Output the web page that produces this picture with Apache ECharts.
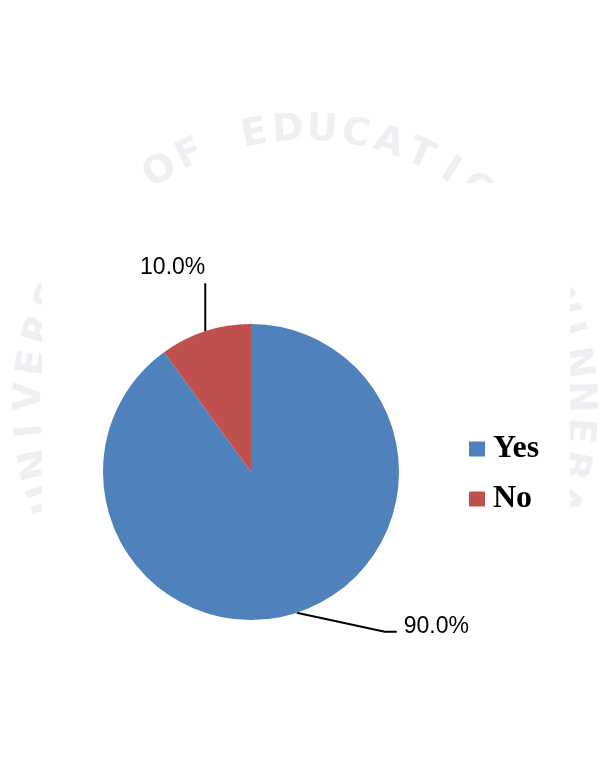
<!DOCTYPE html>
<html>
<head>
<meta charset="utf-8">
<title>Yes / No</title>
<script src="https://cdn.jsdelivr.net/npm/echarts@6/dist/echarts.min.js"></script>
<style>
  html, body { margin: 0; padding: 0; background: #ffffff; }
  #chart { width: 605px; height: 757px; }
</style>
</head>
<body>
<div id="chart"></div>
<script>
// Answer categories and their shares (percent)
const categories = ['Yes', 'No'];
const shares = [90.0, 10.0];
const sliceColors = ['#4F81BD', '#C0504D'];

// Faint seal lettering behind the chart
const sealText = 'UNIVERSITY OF EDUCATION, WINNEBA';

const chart = echarts.init(document.getElementById('chart'), null, { renderer: 'canvas' });

// Place the seal letters around a circle, centred on the page
const sealCx = 305, sealCy = 405, sealR = 275;
const sealSpan = 226 * Math.PI / 180;
const sealLetters = [];
for (let i = 0; i < sealText.length; i++) {
  const ch = sealText[i];
  if (ch === ' ') continue;
  const theta = -sealSpan / 2 + sealSpan * (i + 0.5) / sealText.length;
  sealLetters.push({
    type: 'text',
    z: 0,
    x: sealCx + sealR * Math.sin(theta),
    y: sealCy - sealR * Math.cos(theta),
    rotation: -theta,
    silent: true,
    style: {
      text: ch,
      fill: 'rgba(212,212,226,0.4)',
      font: 'bold 38px "DejaVu Sans"',
      align: 'center',
      verticalAlign: 'middle',
      shadowBlur: 4,
      shadowColor: 'rgba(212,212,226,0.5)'
    }
  });
}

const option = {
  backgroundColor: '#ffffff',
  animation: false,
  color: sliceColors,
  graphic: sealLetters.concat([
    {
      type: 'rect',
      z: 1,
      silent: true,
      shape: { x: 42, y: 183, width: 528, height: 574 },
      style: { fill: '#ffffff' }
    }
  ]),
  legend: {
    orient: 'vertical',
    left: 464,
    top: 428,
    padding: 5,
    itemWidth: 16,
    itemHeight: 15,
    itemGap: 18,
    icon: 'rect',
    data: categories,
    textStyle: {
      fontFamily: '"Liberation Serif", "Times New Roman", serif',
      fontWeight: 'bold',
      fontSize: 32,
      lineHeight: 32,
      color: '#000000',
      padding: [0, 0, 0, 3]
    }
  },
  series: [
    {
      type: 'pie',
      z: 2,
      center: [251, 472],
      radius: 148,
      startAngle: 90,
      clockwise: true,
      avoidLabelOverlap: false,
      itemStyle: { borderWidth: 0 },
      emphasis: { disabled: true },
      label: {
        show: true,
        position: 'outside',
        fontFamily: '"Liberation Sans", Arial, sans-serif',
        fontSize: 23,
        color: '#000000',
        formatter: function (p) { return p.value.toFixed(1) + '%'; }
      },
      labelLine: {
        show: true,
        length: 20,
        length2: 10,
        lineStyle: { color: '#000000', width: 2 }
      },
      labelLayout: function (p) {
        const pts = p.labelLinePoints;
        if (!pts) return {};
        const a = pts[0];
        if (p.dataIndex === 1) {
          // Short vertical leader with the label sitting above it
          return {
            x: a[0],
            y: a[1] - 52,
            align: 'right',
            verticalAlign: 'bottom',
            labelLinePoints: [a, [a[0], a[1] - 48], [a[0], a[1] - 48]]
          };
        }
        // Slanted leader with a short horizontal tail to the right
        return {
          x: a[0] + 107,
          y: a[1] + 14,
          align: 'left',
          verticalAlign: 'middle',
          labelLinePoints: [a, [a[0] + 88, a[1] + 19], [a[0] + 100, a[1] + 19]]
        };
      },
      data: categories.map(function (name, i) {
        return { name: name, value: shares[i] };
      })
    }
  ]
};

chart.setOption(option);
</script>
</body>
</html>
